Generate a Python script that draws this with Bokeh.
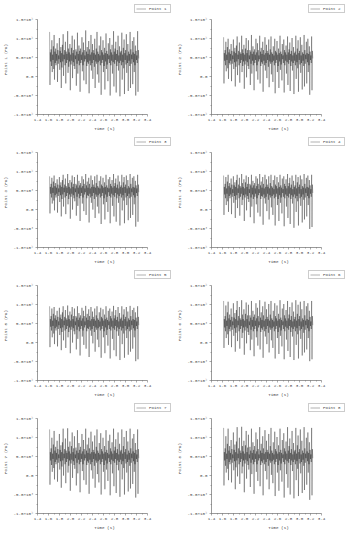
import numpy as np
from bokeh.plotting import figure
from bokeh.layouts import gridplot
from bokeh.models import FixedTicker, Legend, LegendItem
from bokeh.embed import file_html
from bokeh.resources import INLINE

# ---------------- data (pressure in kPa) ----------------
T_START, T_END = 1.62, 3.24

p1 = [118,-22,64,40,72,28,96,12,58,44,80,20,110,-8,66,36,74,30,60,42,88,-14,70,34,56,46,102,18,68,38,78,-30,62,24,84,40,112,2,58,46,70,30,92,-18,66,36,60,44,120,10,74,26,64,40,86,-36,58,32,76,42,108,-4,62,38,70,28,98,20,56,46,72,-24,66,34,116,8,60,42,82,30,68,-40,74,36,58,44,104,14,64,30,90,-10,70,40,56,46,122,-20,66,28,78,38,60,34,94,-44,72,42,58,30,110,16,64,36,86,-6,70,44,62,26,100,-30,58,40,74,34,118,6,66,38,60,-16,82,42,56,30,106,-48,70,36,64,44,96,12,58,28,76,-34,62,40,114,20,68,32,60,-12,88,46,56,36,102,-50,72,30,64,42,84,8,58,38,120,-26,66,34,74,44,92,-42,60,28,70,40,108,16,56,36,80,-52,64,42,68,30,116,-8,58,38,76,22,98,-46,62,44,70,32,112,10,56,36,86,-38,66,42,60,28,118,-30,72,34,58,46,94,-20,64,38,104,12,60,30,82,-50,68,44,56,36,120,-40,70,48]
p2 = [104,-18,62,42,70,30,92,14,58,44,78,22,100,-6,64,36,72,32,60,42,86,-12,68,34,56,46,98,20,66,38,76,-26,62,26,82,40,106,4,58,46,68,30,90,-16,64,36,60,44,108,12,72,28,62,40,84,-32,58,32,74,42,102,-2,62,38,70,28,96,20,56,46,70,-22,66,34,110,8,60,42,80,30,66,-36,72,36,58,44,100,14,64,30,88,-8,70,40,56,46,108,-18,66,28,76,38,60,34,92,-40,70,42,58,30,104,16,62,36,84,-4,68,44,62,26,98,-28,58,40,72,34,106,6,64,38,60,-14,80,42,56,30,100,-44,68,36,64,44,94,12,58,28,74,-30,62,40,108,18,66,32,60,-10,86,46,56,36,98,-42,70,30,64,42,82,8,58,38,106,-22,64,34,72,44,90,-38,60,28,68,40,102,16,56,36,78,-46,62,42,66,30,108,-6,58,38,74,22,96,-40,62,44,68,32,104,10,56,36,84,-34,64,42,60,28,110,-26,70,34,58,46,92,-18,62,38,100,12,60,30,80,-48,66,44,56,36,106,-36,68,48]
p3 = [88,-10,60,42,68,32,84,16,58,44,74,24,90,-2,62,38,70,32,58,42,80,-8,66,36,56,46,86,20,64,38,72,-18,60,28,78,40,92,8,58,46,66,32,82,-12,62,36,58,44,94,14,70,28,60,40,78,-24,56,34,72,42,90,0,60,38,68,30,86,22,56,46,68,-16,64,34,92,10,58,42,76,30,64,-30,70,36,58,44,88,16,62,32,80,-4,68,40,56,46,94,-14,64,30,74,38,58,36,84,-34,68,42,56,32,90,18,60,36,78,0,66,44,60,28,88,-22,58,40,70,34,92,8,62,38,58,-10,76,42,56,32,88,-38,66,36,62,44,84,14,58,30,72,-26,60,40,92,20,64,34,58,-6,80,46,56,36,86,-36,68,32,62,42,78,10,58,38,94,-18,62,34,70,44,82,-32,58,30,66,40,90,18,56,36,74,-42,60,42,64,32,92,-2,58,38,72,24,86,-36,60,44,66,32,90,12,56,36,78,-28,62,42,58,30,94,-22,68,34,56,46,84,-14,60,38,88,14,58,32,76,-45,64,44,56,36,92,-32,66,46]
p4 = [90,-14,60,40,68,30,86,12,56,42,74,22,92,-6,62,36,70,30,58,40,82,-12,66,34,54,44,88,18,64,36,72,-22,60,26,78,38,92,4,56,44,66,30,84,-16,62,34,58,42,94,12,70,26,60,38,80,-30,56,32,72,40,90,-2,60,36,68,28,86,20,54,44,68,-20,64,32,92,8,58,40,76,28,64,-36,70,34,56,42,88,14,62,30,82,-8,68,38,54,44,94,-18,64,28,74,36,58,34,86,-40,68,40,56,30,92,16,60,34,80,-4,66,42,60,26,88,-26,56,38,70,32,92,6,62,36,58,-14,78,40,54,30,90,-42,66,34,62,42,86,12,56,28,72,-30,60,38,92,18,64,32,58,-10,82,44,54,34,88,-44,68,30,62,40,80,8,56,36,94,-22,62,32,70,42,84,-38,58,28,66,38,90,16,54,34,76,-48,60,40,64,30,92,-6,56,36,72,22,86,-42,60,42,66,30,90,10,54,34,80,-34,62,40,58,26,94,-26,68,32,56,44,84,-18,60,36,90,12,58,30,78,-51,64,42,54,34,92,-46,66,44]
p5 = [96,-12,62,42,70,32,90,14,58,44,76,24,94,-4,64,38,72,32,60,42,84,-10,68,36,56,46,92,20,66,38,74,-20,62,28,80,40,96,6,58,46,68,32,86,-14,64,36,60,44,98,14,72,28,62,40,82,-28,58,34,74,42,94,0,62,38,70,30,90,22,56,46,70,-18,66,34,96,10,60,42,78,30,66,-34,72,36,58,44,92,16,64,32,84,-6,70,40,56,46,97,-16,66,30,76,38,60,36,88,-38,70,42,58,32,94,18,62,36,82,-2,68,44,62,28,90,-24,58,40,72,34,96,8,64,38,60,-12,80,42,56,32,92,-40,68,36,64,44,88,14,58,30,74,-28,62,40,96,20,66,34,60,-8,84,46,56,36,90,-42,70,32,64,42,82,10,58,38,97,-20,64,34,72,44,86,-36,60,30,68,40,94,18,56,36,78,-46,62,42,66,32,96,-4,58,38,74,24,88,-40,62,44,68,32,94,12,56,36,82,-32,64,42,60,30,97,-24,70,34,58,46,86,-16,62,38,92,14,60,32,80,-49,66,44,56,36,96,-44,68,46]
p6 = [110,-14,62,40,70,30,98,12,58,44,80,22,108,-6,64,36,74,30,60,42,90,-12,68,34,56,46,104,18,66,38,78,-24,62,26,86,40,110,4,58,46,70,30,94,-16,64,36,60,44,112,12,74,26,62,40,88,-32,58,32,76,42,106,-2,62,38,72,28,100,20,56,46,72,-20,66,34,110,8,60,42,84,30,68,-36,74,36,58,44,104,14,64,30,92,-8,70,40,56,46,112,-18,66,28,80,38,60,34,96,-40,72,42,58,30,108,16,62,36,88,-4,68,44,62,26,102,-26,58,40,74,34,110,6,64,38,60,-14,84,42,56,30,104,-42,70,36,64,44,98,12,58,28,76,-30,62,40,112,18,66,32,60,-10,90,46,56,36,102,-44,72,30,64,42,86,8,58,38,110,-22,64,34,74,44,94,-38,60,28,70,40,106,16,56,36,82,-46,62,42,68,30,112,-6,58,38,76,22,100,-42,62,44,70,32,108,10,56,36,88,-34,64,42,60,26,110,-26,72,34,58,46,96,-18,62,38,104,12,60,30,84,-49,68,44,56,36,110,-44,70,46]
p7 = [122,-24,62,40,72,28,100,10,58,44,82,20,118,-10,66,36,76,30,60,42,92,-16,70,34,56,46,110,16,68,38,80,-32,62,24,88,40,124,0,58,46,70,30,98,-20,66,36,60,44,125,8,76,26,64,40,90,-40,58,32,78,42,114,-6,62,38,72,28,104,18,56,46,74,-26,66,34,120,6,60,42,86,30,68,-44,76,36,58,44,110,12,64,30,94,-12,70,40,56,46,124,-24,66,28,82,38,60,34,100,-48,72,42,58,30,116,14,62,36,90,-8,68,44,62,26,106,-32,58,40,76,34,122,4,66,38,60,-18,86,42,56,30,112,-50,70,36,64,44,100,10,58,28,78,-36,62,40,120,16,68,32,60,-14,92,46,56,36,108,-52,72,30,64,42,88,6,58,38,124,-28,66,34,76,44,96,-46,60,28,70,40,114,14,56,36,84,-56,64,42,68,30,122,-10,58,38,78,20,102,-50,62,44,70,32,118,8,56,36,90,-42,66,42,60,26,124,-34,72,34,58,46,98,-22,64,38,110,10,60,30,86,-58,68,44,56,36,122,-48,70,46]
p8 = [126,-26,62,40,72,26,104,8,58,44,84,18,124,-12,66,36,78,30,60,42,94,-18,70,34,56,46,114,14,68,38,82,-36,62,22,90,40,128,-2,58,46,72,30,100,-22,66,36,60,44,129,6,78,24,64,40,92,-44,58,32,80,42,118,-8,62,38,74,28,108,16,56,46,76,-30,66,34,124,4,60,42,88,30,68,-48,78,36,58,44,114,10,64,30,96,-14,70,40,56,46,128,-28,66,28,84,38,60,34,104,-52,72,42,58,30,120,12,62,36,92,-10,68,44,62,26,110,-36,58,40,78,34,126,2,66,38,60,-20,88,42,56,30,116,-54,70,36,64,44,102,8,58,28,80,-40,62,40,124,14,68,32,60,-16,94,46,56,36,112,-58,72,30,64,42,90,4,58,38,128,-32,66,34,78,44,98,-50,60,28,70,40,118,12,56,36,86,-60,64,42,68,30,126,-12,58,38,80,18,106,-54,62,44,70,32,122,6,56,36,92,-46,66,42,60,26,128,-38,72,34,58,46,100,-24,64,38,114,8,60,30,88,-64,68,44,56,36,126,-52,70,46]

series = [p1, p2, p3, p4, p5, p6, p7, p8]
names = ["Point 1", "Point 2", "Point 3", "Point 4", "Point 5", "Point 6", "Point 7", "Point 8"]

x_ticks = [1.4, 1.6, 1.8, 2.0, 2.2, 2.4, 2.6, 2.8, 3.0, 3.2, 3.4]
x_minor = [1.5, 1.7, 1.9, 2.1, 2.3, 2.5, 2.7, 2.9, 3.1, 3.3]
y_ticks = [-100000, -50000, 0, 50000, 100000, 150000]
y_minor = [-75000, -25000, 25000, 75000, 125000]
y_labels = ["-1.0×10⁵", "-5.0×10⁴", "0.0", "5.0×10⁴", "1.0×10⁵", "1.5×10⁵"]

FONT = "Liberation Mono"
TXT = "#444444"

figs = []
for vals, name in zip(series, names):
    y = np.array(vals, dtype=float) * 1000.0
    t = np.linspace(T_START, T_END, len(y))
    # frame extends past the axes (right and top) to hold the legend box
    p = figure(width=174, height=133, output_backend="svg", toolbar_location=None,
               x_range=(1.4, 3.835), y_range=(-100000, 190400),
               min_border_left=31, min_border_right=3, min_border_top=4, min_border_bottom=19)
    r = p.line(t, y, line_color="black", line_width=0.35, line_alpha=0.9)
    p.outline_line_color = None
    p.grid.visible = False
    p.background_fill_color = "white"

    p.xaxis.bounds = (1.4, 3.4)
    p.yaxis.bounds = (-100000, 150000)
    p.xaxis.ticker = FixedTicker(ticks=x_ticks, minor_ticks=x_minor)
    p.xaxis.major_label_overrides = {v: f"{v:.1f}" for v in x_ticks}
    p.yaxis.ticker = FixedTicker(ticks=y_ticks, minor_ticks=y_minor)
    p.yaxis.major_label_overrides = dict(zip(y_ticks, y_labels))
    p.xaxis.axis_label = "Time (s)"
    p.yaxis.axis_label = name + " (Pa)"
    for ax in (p.xaxis, p.yaxis):
        ax.axis_label_text_font = FONT
        ax.axis_label_text_font_size = "4.3px"
        ax.axis_label_text_font_style = "normal"
        ax.axis_label_text_color = TXT
        ax.major_label_text_font = FONT
        ax.major_label_text_font_size = "4.2px"
        ax.major_label_text_color = TXT
        ax.axis_line_color = "#555555"
        ax.axis_line_width = 0.6
        ax.major_tick_line_color = "#555555"
        ax.minor_tick_line_color = "#555555"
        ax.major_tick_line_width = 0.5
        ax.minor_tick_line_width = 0.5
        ax.major_tick_in = 0
        ax.major_tick_out = 2
        ax.minor_tick_in = 0
        ax.minor_tick_out = 1
        ax.major_label_standoff = 2
        ax.axis_label_standoff = 2

    leg = Legend(items=[LegendItem(label=name, renderers=[r])], location="top_right")
    leg.label_text_font = FONT
    leg.label_text_font_size = "4.2px"
    leg.label_text_color = TXT
    leg.label_height = 4
    leg.glyph_height = 5
    leg.glyph_width = 10
    leg.label_standoff = 3
    leg.padding = 1
    leg.spacing = 0
    leg.margin = 0
    leg.border_line_color = "#999999"
    leg.border_line_width = 0.5
    leg.background_fill_alpha = 0
    p.add_layout(leg, "center")
    figs.append(p)

grid = gridplot(figs, ncols=2, toolbar_location=None)
open("out.html", "w").write(file_html(grid, INLINE))
